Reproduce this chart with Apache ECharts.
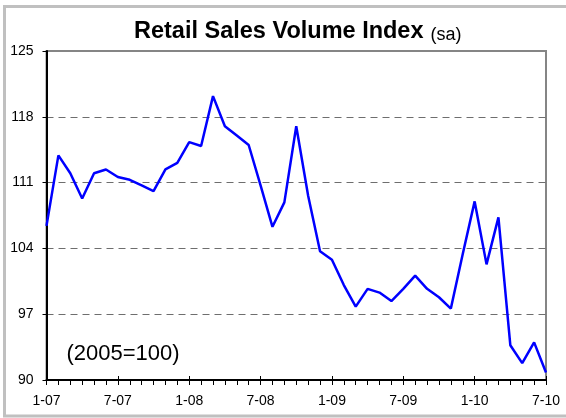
<!DOCTYPE html>
<html>
<head>
<meta charset="utf-8">
<script src="https://cdn.jsdelivr.net/npm/echarts@6/dist/echarts.min.js"></script>
<style>
  html, body { margin: 0; padding: 0; background: #fff; }
  #chart { width: 566px; height: 418px; }
</style>
</head>
<body>
<div id="chart"></div>
<script>
// Monthly retail sales volume index, seasonally adjusted (2005=100), Jan 2007 - Jul 2010
const months = [
  '1-07','2-07','3-07','4-07','5-07','6-07','7-07','8-07','9-07','10-07','11-07','12-07',
  '1-08','2-08','3-08','4-08','5-08','6-08','7-08','8-08','9-08','10-08','11-08','12-08',
  '1-09','2-09','3-09','4-09','5-09','6-09','7-09','8-09','9-09','10-09','11-09','12-09',
  '1-10','2-10','3-10','4-10','5-10','6-10','7-10'
];
const salesIndex = [
  106.4, 113.9, 112.0, 109.3, 112.0, 112.4, 111.6, 111.3, 110.7, 110.1, 112.4, 113.1,
  115.3, 114.9, 120.2, 117.0, 116.0, 115.0, 110.7, 106.3, 108.9, 117.0, 109.6, 103.7,
  102.8, 100.1, 97.8, 99.7, 99.3, 98.4, 99.7, 101.1, 99.7, 98.8, 97.6, 103.4,
  109.0, 102.3, 107.3, 93.7, 91.8, 94.0, 90.8
];
const yMin = 90, yMax = 125, yStep = 7;

const FONT = '"Liberation Sans", Arial, sans-serif';
const chart = echarts.init(document.getElementById('chart'), null, { renderer: 'canvas' });

chart.setOption({
  animation: false,
  backgroundColor: '#ffffff',
  title: {
    text: '{a|Retail Sales Volume Index} {b|(sa)}',
    left: 134,
    top: 20,
    padding: 0,
    textStyle: {
      rich: {
        a: { fontSize: 23.5, fontWeight: 'bold', color: '#000', fontFamily: FONT },
        b: { fontSize: 18, fontWeight: 'normal', color: '#000', fontFamily: FONT, padding: [6, 0, 0, 2] }
      }
    }
  },
  graphic: [
    {
      type: 'rect',
      silent: true,
      shape: { x: 4.5, y: 6.5, width: 640, height: 409.5 },
      style: { fill: 'none', stroke: '#c0c0c0', lineWidth: 3 }
    },
    {
      type: 'text',
      silent: true,
      style: {
        x: 123, y: 354,
        text: '(2005=100)',
        font: '22px ' + FONT,
        fill: '#000',
        align: 'center',
        verticalAlign: 'middle'
      }
    }
  ],
  grid: {
    left: 46.5, right: 20, top: 51, bottom: 38,
    show: true,
    borderColor: '#858585',
    borderWidth: 2
  },
  xAxis: [
    {
      type: 'category',
      data: months,
      boundaryGap: false,
      axisLine: { show: true, lineStyle: { color: '#000', width: 2 } },
      axisTick: { show: true, interval: 0, length: 5, lineStyle: { color: '#000', width: 1 } },
      axisLabel: {
        interval: 5, margin: 14, color: '#000', fontSize: 14, fontFamily: FONT
      },
      splitLine: { show: false }
    },
    {
      // longer ticks at the half-year marks, crossing into the plot
      type: 'category',
      data: months,
      boundaryGap: false,
      position: 'bottom',
      axisLine: { show: false },
      axisTick: { show: true, interval: 5, inside: true, length: 4, lineStyle: { color: '#000', width: 1 } },
      axisLabel: { show: false },
      splitLine: { show: false }
    }
  ],
  yAxis: {
    type: 'value',
    min: yMin, max: yMax, interval: yStep,
    axisLine: { show: true, lineStyle: { color: '#000', width: 2 } },
    axisTick: { show: true, length: 4, lineStyle: { color: '#000', width: 1 } },
    axisLabel: { margin: 13, color: '#000', fontSize: 14, fontFamily: FONT },
    splitLine: {
      show: true,
      showMinLine: false,
      showMaxLine: false,
      lineStyle: { color: '#6e6e6e', width: 1, type: [7, 5] }
    }
  },
  series: [
    {
      type: 'line',
      data: salesIndex,
      xAxisIndex: 0,
      symbol: 'none',
      lineStyle: { color: '#0000ff', width: 2.5 },
      z: 5
    }
  ]
});
</script>
</body>
</html>
